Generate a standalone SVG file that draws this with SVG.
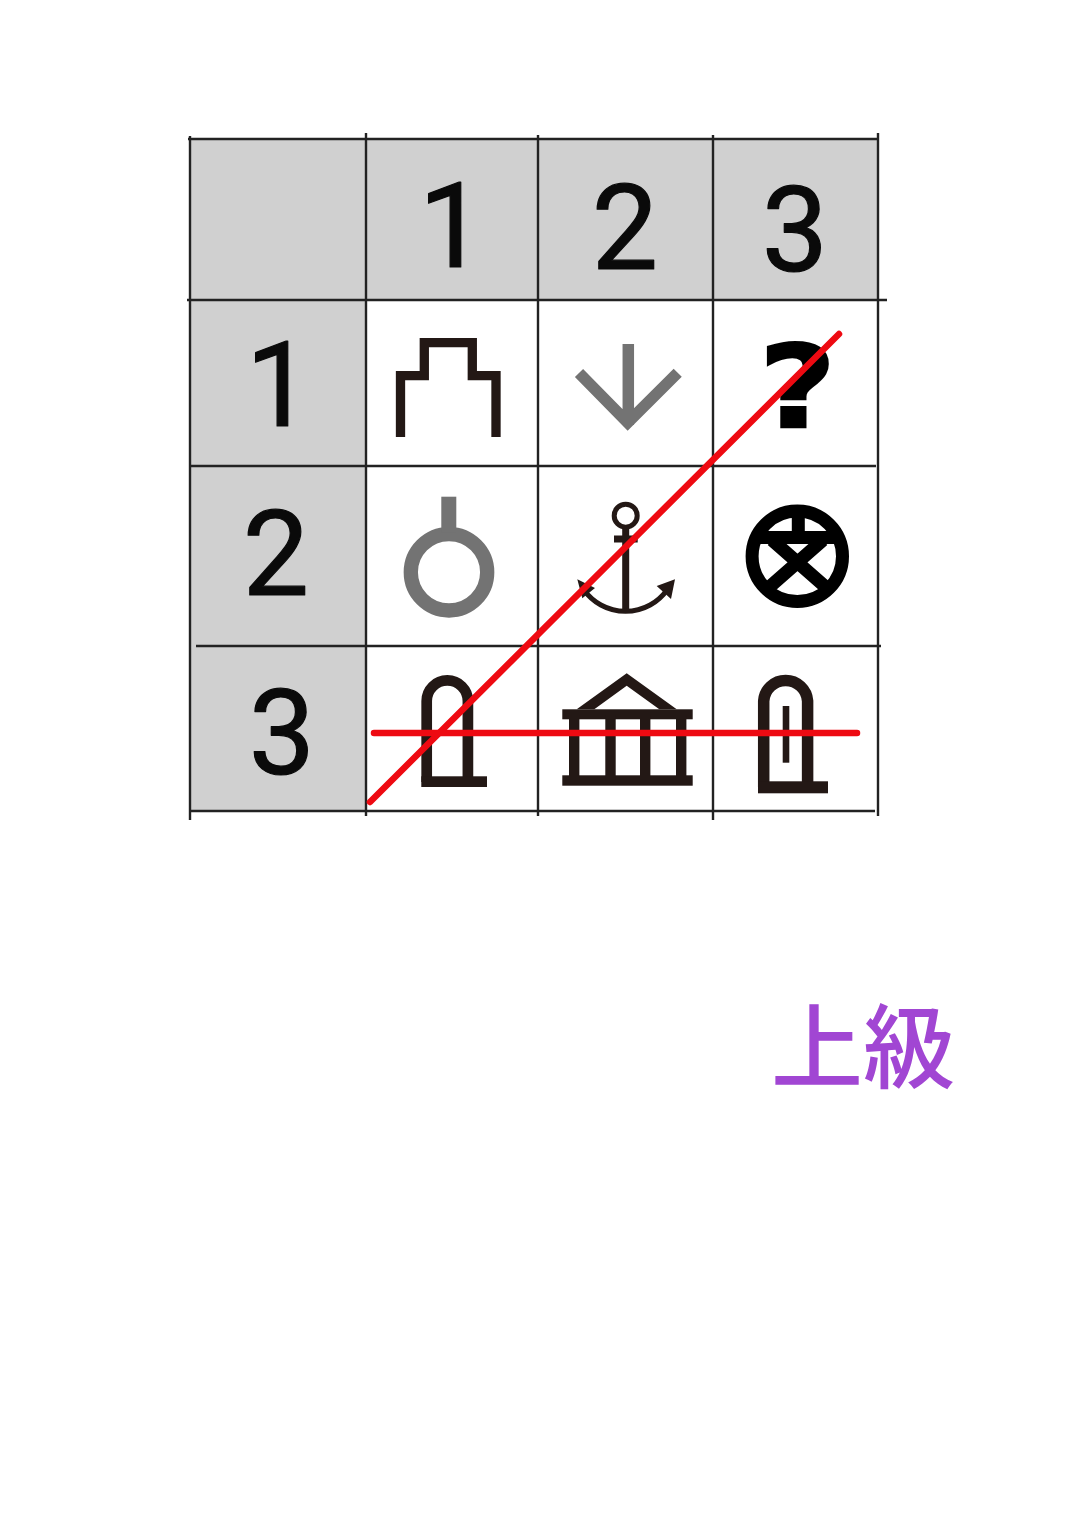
<svg xmlns="http://www.w3.org/2000/svg" width="1077" height="1520" viewBox="0 0 1077 1520">
<style>
.grid{stroke:#222;stroke-width:2.4;fill:none}
.hd{fill:#d0d0d0}
.num{font-family:Roboto,"Liberation Sans",Arial,sans-serif;font-size:118px;fill:#0a0a0a;stroke:#0a0a0a;stroke-width:1.2;stroke-linejoin:round;text-anchor:middle}
.k{stroke:#231815;fill:none;stroke-linejoin:miter}
.kf{fill:#231815}
.g{stroke:#737373;fill:none}
.gf{fill:#737373}
.b{stroke:#000;fill:none}
.red{stroke:#ee0a12;stroke-width:6.5;stroke-linecap:round;fill:none}
</style>
<rect width="1077" height="1520" fill="#fff"/>
<g id="table">
<rect class="hd" x="190" y="139" width="688" height="161"/>
<rect class="hd" x="190" y="139" width="176" height="672"/>
<path class="grid" d="M190 136V820M366 133V816M538 135V816M713 135V820M878 133V816M188 139H879M187 300H887M190 466H876M196 646H881M190 811H875"/>
</g>
<g id="col-labels">
<text class="num" x="452" y="267">1</text>
<text class="num" x="625" y="269">2</text>
<text class="num" x="795" y="271">3</text>
</g>
<g id="row-labels">
<text class="num" x="279" y="426">1</text>
<text class="num" x="276" y="595">2</text>
<text class="num" x="282" y="774">3</text>
</g>
<g id="s11"><path class="k" stroke-width="9.3" d="M400.5 437V375.7H424.3V342.7H472.3V375.7H496V437"/></g>
<g id="s12"><path class="g" stroke-width="11.5" d="M628.3 344V425M579 373L627.7 422.5L677.7 372.7"/></g>
<g id="s13"><text transform="translate(797.5 426.5) scale(1.16 1)" font-family="'DejaVu Sans',sans-serif" font-weight="700" font-size="114" text-anchor="middle" fill="#000" stroke="#000" stroke-width="2.5">?</text></g>
<g id="s21"><circle class="g" stroke-width="14.3" cx="449" cy="572.3" r="38.2"/><rect class="gf" x="441.3" y="496.7" width="15" height="36"/></g>
<g id="s22">
<circle class="k" stroke-width="5" cx="625.7" cy="515.7" r="11.5"/>
<path class="k" stroke-width="7" d="M625.7 528V611M614 539H637.7"/>
<path class="k" stroke-width="5" d="M584 590A51 51 0 0 0 667 590"/>
<path class="kf" d="M577.3 579.3L595 588L582.3 598.3ZM675 579.3L656.7 586L671 599Z"/>
</g>
<g id="s23">
<circle class="b" stroke-width="13" cx="797.3" cy="556.3" r="45.2"/>
<path class="b" stroke-width="13" d="M798.3 510V538M757 537.5H838M772 540L829 590M823 540L766 590"/>
</g>
<g id="s31"><path class="k" stroke-width="10.7" d="M426.7 782V701A20.2 20.2 0 0 1 467.9 701V782"/><rect class="kf" x="421.3" y="776.3" width="65.7" height="10.7"/></g>
<g id="s32">
<path class="kf" fill-rule="evenodd" d="M626.7 673.3L676.7 709.3H576.7ZM626.7 685.7L594.3 709.3H659.3Z"/>
<rect class="kf" x="562.3" y="709.3" width="130.4" height="10"/>
<rect class="kf" x="562.3" y="775.3" width="130.4" height="10.4"/>
<rect class="kf" x="569" y="715" width="10.4" height="65"/>
<rect class="kf" x="605.3" y="715" width="10.4" height="65"/>
<rect class="kf" x="640" y="715" width="10.4" height="65"/>
<rect class="kf" x="676" y="715" width="10.4" height="65"/>
</g>
<g id="s33"><path class="k" stroke-width="11.5" d="M763.7 787V701A22 22 0 0 1 807.6 701V787"/><rect class="kf" x="758" y="781.3" width="70" height="12"/><rect class="kf" x="782.7" y="706" width="6.6" height="56.7"/></g>
<g id="connectors">
<path class="red" d="M370 802L839 334"/>
<path class="red" d="M374 733H857"/>
</g>
<g id="level"><text x="863" y="1081" font-family="'Noto Sans CJK JP','Noto Sans CJK SC',sans-serif" font-weight="500" font-size="92" text-anchor="middle" fill="#a146d3">上級</text></g>
</svg>
